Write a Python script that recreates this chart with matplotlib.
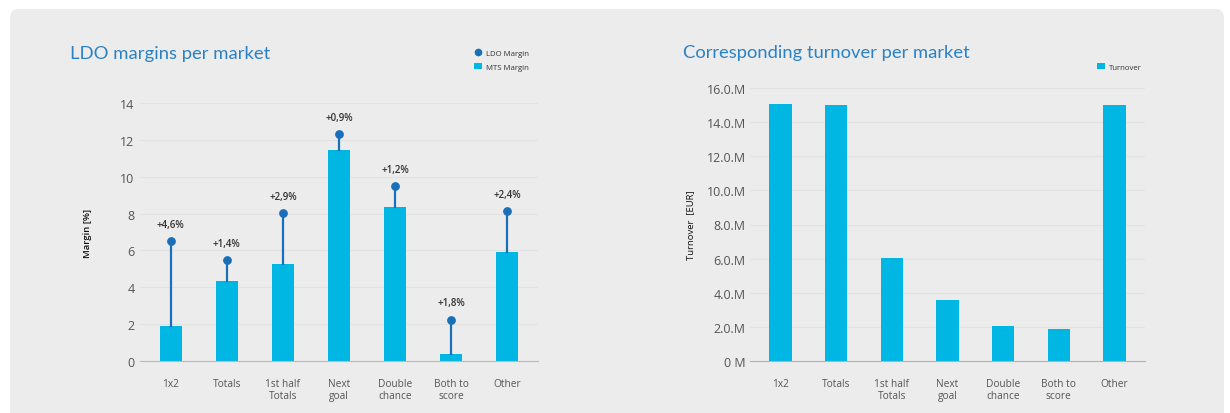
import matplotlib
matplotlib.use("Agg")
import matplotlib.pyplot as plt
from matplotlib.patches import FancyBboxPatch
from matplotlib.lines import Line2D
from matplotlib.patches import Patch
import numpy as np

categories = ["1x2", "Totals", "1st half\nTotals", "Next\ngoal", "Double\nchance", "Both to\nscore", "Other"]
mts_margin = [1.9, 4.35, 5.26, 11.45, 8.35, 0.4, 5.9]
ldo_margin = [6.5, 5.5, 8.05, 12.3, 9.5, 2.25, 8.15]
diff_labels = ["+4,6%", "+1,4%", "+2,9%", "+0,9%", "+1,2%", "+1,8%", "+2,4%"]
turnover = [15.07e6, 15.02e6, 6.04e6, 3.58e6, 2.05e6, 1.88e6, 15.02e6]
margin_ticks = [0, 2, 4, 6, 8, 10, 12, 14]
turnover_ticks = [0, 2e6, 4e6, 6e6, 8e6, 10e6, 12e6, 14e6, 16e6]
turnover_tick_labels = ["0 M", "2.0.M", "4.0.M", "6.0.M", "8.0.M", "10.0.M", "12.0.M", "14.0.M", "16.0.M"]

plt.rcParams['font.family'] = ['Open Sans', 'DejaVu Sans']

W, H = 1230, 414
fig = plt.figure(figsize=(W / 100, H / 100), dpi=100, facecolor="white")

# background panel in pixel coordinates
bg = fig.add_axes([0, 0, 1, 1], zorder=-10)
bg.set_xlim(0, W)
bg.set_ylim(H, 0)
bg.axis("off")
bg.add_patch(FancyBboxPatch((10, 10), 1214, H + 30,
                            boxstyle="round,pad=0,rounding_size=9",
                            facecolor="#ececec", edgecolor="none"))

BAR = "#00b6e2"
DOT = "#1a70b8"
TICK = "#555555"
GRID = "#e2e2e2"
TITLE = "#2a82c4"

def fx(px):
    return px / W

def fy(py):
    return 1 - py / H

# ---- left chart ----
ax1 = fig.add_axes([fx(140), fy(362), fx(538) - fx(140), fy(104) - fy(362)])
ax1.set_facecolor("none")
x = np.arange(len(categories))
ax1.bar(x, mts_margin, width=0.4, color=BAR, zorder=2)
for xi, b, d, lab in zip(x, mts_margin, ldo_margin, diff_labels):
    ax1.plot([xi, xi], [b, d], color=DOT, lw=1.6, zorder=3)
    ax1.text(xi, d + 0.6, lab, ha="center", va="bottom", fontsize=7,
             fontweight="semibold", color="#333333", clip_on=False)
ax1.scatter(x, ldo_margin, s=28, color=DOT, zorder=4, clip_on=False)
ax1.set_xlim(-0.55, len(categories) - 0.45)
ax1.set_ylim(0, 14)
ax1.set_yticks(margin_ticks)
ax1.set_xticks(x)
ax1.set_xticklabels(categories)
ax1.grid(axis="y", color=GRID, lw=0.8, zorder=0)
ax1.set_axisbelow(True)
for s in ["top", "right", "left"]:
    ax1.spines[s].set_visible(False)
ax1.spines["bottom"].set_color("#b8b8c8")
ax1.tick_params(axis="both", length=0, colors=TICK)
ax1.tick_params(axis="x", pad=12, labelsize=7.3)
ax1.tick_params(axis="y", pad=4, labelsize=9)
ax1.set_ylabel("Margin [%]", fontsize=6.8, color="#111111", fontweight="semibold")
ax1.yaxis.set_label_coords(-0.121, 0.5)
fig.text(fx(70), fy(54), "LDO margins per market", fontsize=13.3, color=TITLE,
         va="center", ha="left", family=["Lato", "DejaVu Sans"])

# legend left
leg1 = ax1.legend(handles=[
    Line2D([0], [0], marker="o", color="none", markerfacecolor=DOT, markeredgecolor=DOT, markersize=4.5, label="LDO Margin"),
    Patch(facecolor=BAR, label="MTS Margin")],
    loc="upper left", bbox_to_anchor=(fx(467), fy(43)), bbox_transform=fig.transFigure,
    frameon=False, fontsize=5.6, handlelength=1.0, handleheight=0.9, labelspacing=0.75,
    handletextpad=0.6)
for t in leg1.get_texts():
    t.set_color("#333333")

# ---- right chart ----
ax2 = fig.add_axes([fx(750), fy(362), fx(1145) - fx(750), fy(89) - fy(362)])
ax2.set_facecolor("none")
ax2.bar(x, turnover, width=0.4, color=BAR, zorder=2)
ax2.set_xlim(-0.55, len(categories) - 0.45)
ax2.set_ylim(0, 16e6)
ax2.set_yticks(turnover_ticks)
ax2.set_yticklabels(turnover_tick_labels)
ax2.set_xticks(x)
ax2.set_xticklabels(categories)
ax2.grid(axis="y", color=GRID, lw=0.8, zorder=0)
ax2.set_axisbelow(True)
for s in ["top", "right", "left"]:
    ax2.spines[s].set_visible(False)
ax2.spines["bottom"].set_color("#b4a8e0")
ax2.tick_params(axis="both", length=0, colors=TICK)
ax2.tick_params(axis="x", pad=12, labelsize=7.3)
ax2.tick_params(axis="y", pad=3, labelsize=9)
ax2.set_ylabel("Turnover  [EUR]", fontsize=6.8, color="#111111")
ax2.yaxis.set_label_coords(-0.139, 0.5)
fig.text(fx(683), fy(53), "Corresponding turnover per market", fontsize=13.2, color=TITLE,
         va="center", ha="left", family=["Lato", "DejaVu Sans"])

leg2 = ax2.legend(handles=[Patch(facecolor=BAR, label="Turnover")],
                  loc="upper left", bbox_to_anchor=(fx(1090), fy(57)), bbox_transform=fig.transFigure,
                  frameon=False, fontsize=5.6, handlelength=1.0, handleheight=0.9,
                  handletextpad=0.6)
for t in leg2.get_texts():
    t.set_color("#333333")

fig.savefig("out.png", dpi=100, facecolor="white")
